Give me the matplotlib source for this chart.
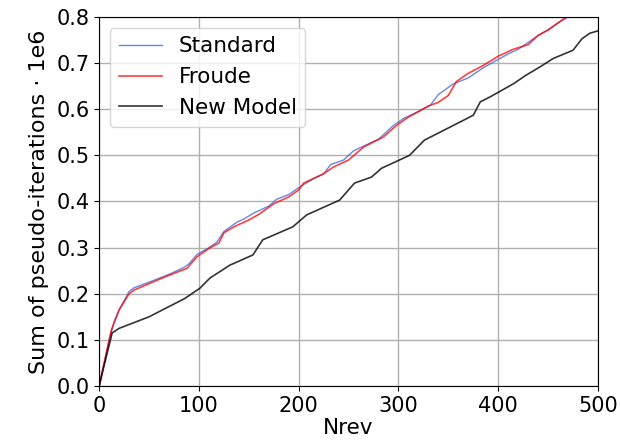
import numpy as np
import matplotlib
matplotlib.use('Agg')
import matplotlib.pyplot as plt

# Sum of pseudo-iterations (x 1e6) versus Nrev
nrev_std = [0, 5, 10, 15, 20, 25, 30, 35, 50, 70, 85, 90, 98, 110, 118, 125,
            138, 145, 155, 170, 178, 190, 200, 215, 225, 232, 245, 255, 265,
            280, 295, 305, 320, 332, 340, 355, 370, 385, 400, 410, 420, 430,
            440, 450, 462, 470, 480]
standard = [0, 0.05, 0.1, 0.14, 0.165, 0.185, 0.205, 0.213, 0.225, 0.242,
            0.257, 0.265, 0.285, 0.3, 0.312, 0.335, 0.355, 0.362, 0.375, 0.39,
            0.405, 0.415, 0.43, 0.45, 0.46, 0.48, 0.49, 0.51, 0.52, 0.535,
            0.565, 0.58, 0.595, 0.609, 0.632, 0.655, 0.668, 0.69, 0.708, 0.72,
            0.73, 0.745, 0.76, 0.772, 0.79, 0.8, 0.81]

nrev_fr = [0, 5, 12, 20, 30, 35, 50, 70, 88, 98, 110, 120, 125, 135, 150, 160,
           175, 190, 200, 205, 225, 235, 250, 258, 265, 285, 298, 310, 330,
           340, 350, 358, 370, 385, 400, 415, 430, 440, 450, 465, 475]
froude = [0, 0.05, 0.12, 0.165, 0.2, 0.208, 0.222, 0.24, 0.255, 0.28, 0.298,
          0.31, 0.332, 0.345, 0.36, 0.372, 0.395, 0.41, 0.425, 0.44, 0.46,
          0.475, 0.49, 0.505, 0.518, 0.54, 0.565, 0.583, 0.607, 0.615, 0.63,
          0.66, 0.678, 0.695, 0.715, 0.73, 0.74, 0.76, 0.772, 0.795, 0.81]

nrev_new = [0, 5, 13, 20, 50, 86, 101, 111, 131, 154, 164, 194, 208, 241, 256,
            273, 283, 311, 326, 375, 382, 392, 415, 428, 442, 455, 475, 484,
            492, 500]
new_model = [0, 0.045, 0.115, 0.125, 0.15, 0.19, 0.212, 0.234, 0.262, 0.284,
             0.317, 0.345, 0.371, 0.403, 0.44, 0.453, 0.472, 0.5, 0.533, 0.587,
             0.616, 0.627, 0.655, 0.674, 0.692, 0.71, 0.728, 0.753, 0.765, 0.77]

plt.rcParams['font.size'] = 15

fig = plt.figure(figsize=(6.2, 4.43), dpi=100)
ax = fig.add_axes([0.16, 0.1287, 0.8045, 0.8329])

ax.plot(nrev_std, standard, color='#4169e1', alpha=0.8, lw=1, label='Standard')
ax.plot(nrev_fr, froude, color='r', alpha=0.75, lw=1.2, label='Froude')
ax.plot(nrev_new, new_model, color='k', alpha=0.8, lw=1.2, label='New Model')

ax.set_xlim(0, 500)
ax.set_ylim(0, 0.8)
ax.set_xticks(np.arange(0, 501, 100))
ax.set_yticks(np.arange(0, 0.81, 0.1))
ax.grid(True, color='#b0b0b0', lw=1)
ax.set_xlabel('Nrev', fontsize=15.5, labelpad=2)
ax.set_ylabel('Sum of pseudo-iterations · 1e6', fontsize=16, labelpad=5)
ax.legend(loc='upper left', fontsize=15.5)

fig.savefig('out.png', dpi=100)
